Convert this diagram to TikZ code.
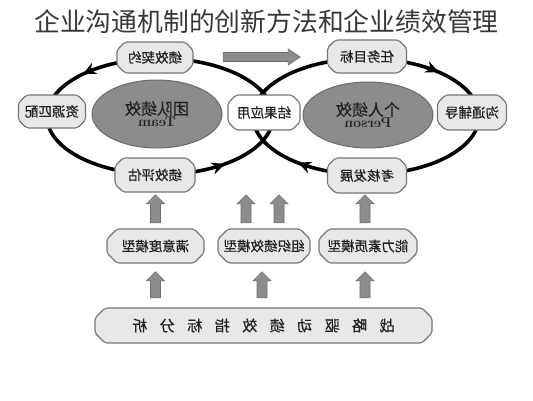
\documentclass[tikz,border=0pt]{standalone}
\usepackage{fontspec}
\usepackage{graphicx}
\newfontfamily\cjk{Noto Sans CJK SC}
\newfontfamily\cjkb[FakeBold=0.6]{Noto Sans CJK SC}
\usetikzlibrary{shapes.geometric,arrows.meta,calc}
\definecolor{boxfill}{HTML}{E8E8E8}
\definecolor{boxline}{HTML}{767676}
\definecolor{ellfill}{HTML}{8C8C8C}
\definecolor{ellline}{HTML}{6A6A6A}
\definecolor{arrfill}{HTML}{8C8C8C}
\definecolor{arrline}{HTML}{6E6E6E}
\definecolor{txt}{HTML}{222222}
\newcommand\mirr[1]{\reflectbox{#1}}
% [fill]{name}{cx}{cy}{w}{h}{chamfer}{text}
\newcommand\octbox[8][boxfill]{%
  \filldraw[octline, fill=#1]
    ({#3-#5/2+#7},{#4-#6/2}) -- ({#3+#5/2-#7},{#4-#6/2}) -- ({#3+#5/2},{#4-#6/2+#7}) --
    ({#3+#5/2},{#4+#6/2-#7}) -- ({#3+#5/2-#7},{#4+#6/2}) -- ({#3-#5/2+#7},{#4+#6/2}) --
    ({#3-#5/2},{#4+#6/2-#7}) -- ({#3-#5/2},{#4-#6/2+#7}) -- cycle;
  \node[octtext, minimum width=#5pt, minimum height=#6pt] (#2) at (#3,#4) {#8};}
\newcommand\blockup[2]{% #1 bottom centre, #2 shaft length
  \draw[blk] (#1) ++(5,0) -- ++(0,-#2) -- ++(4,0) -- ++(-9,-9) -- ++(-9,9) -- ++(4,0) -- ++(0,#2) -- cycle;}
\begin{document}
\begin{tikzpicture}[x=1pt,y=-1pt,
  octline/.style={draw=boxline, line width=1.1pt, rounded corners=2pt},
  octtext/.style={rectangle, inner sep=0pt, text=txt, font=\cjkb\fontsize{13.5}{15}\selectfont},
  ell/.style={ellipse, draw=ellline, fill=ellfill, line width=1pt, inner sep=0pt, text=txt,
     align=center},
  ring/.style={line width=3.6pt, draw=black},
  ringtip/.style={line width=3.6pt, -{Stealth[length=13pt,width=12pt]}},
  blk/.style={fill=arrfill, draw=arrline, line width=0.6pt, line join=miter}
  ]
\useasboundingbox (0,0) rectangle (533,400);
\fill[white] (0,0) rectangle (533,400);

% title
\node[font=\cjk\fontsize{25.8}{28}\selectfont, text=black!78] (title) at (266.5,22) {企业沟通机制的创新方法和企业绩效管理};

% rings
\draw[ring] (160,116.5) ellipse [x radius=113, y radius=58];
\draw[ring] (366,116.5) ellipse [x radius=113, y radius=58];
\draw[ringtip] (87.4,71.9) -- (82.9,74.1);
\draw[ringtip] (220.1,165.7) -- (224.8,164.0);
\draw[ringtip] (434.0,70.1) -- (438.6,72.1);
\draw[ringtip] (302.7,164.6) -- (298.0,162.8);

% ring nodes
\octbox{t1}{155}{57.5}{76}{31}{8}{\mirr{绩效契约}}
\octbox{t2}{52}{111.5}{67}{33}{8}{\mirr{资源匹配}}
\octbox{t3}{155}{175}{80}{34}{8}{\mirr{绩效评估}}
\octbox[white]{t4}{264}{112.5}{72}{35}{8}{\mirr{结果应用}}
\octbox{t5}{367}{56.5}{79}{33}{8}{\mirr{任务目标}}
\octbox{t6}{472}{112.5}{69}{35}{8}{\mirr{沟通辅导}}
\octbox{t7}{367}{175.5}{79}{35}{8}{\mirr{考核发展}}

% ellipses
\node[ell, minimum width=130pt, minimum height=68pt] (e1) at (157,114)
  {{\cjkb\fontsize{16}{18}\selectfont\mirr{团队绩效}}\\[0pt]{\bfseries\fontsize{14}{15}\selectfont\mirr{Team}}};
\node[ell, minimum width=130pt, minimum height=66pt] (e2) at (368,115)
  {{\cjkb\fontsize{16}{18}\selectfont\mirr{个人绩效}}\\[0pt]{\bfseries\fontsize{14}{15}\selectfont\mirr{Person}}};

% top arrow
\coordinate (ta) at ($($(t1.east)!0.5!(t5.west)$)+(-37,4.5)$);
\draw[blk] (ta) -- ++(65,0) -- ++(0,3.5) -- ++(12,-8) -- ++(-12,-8) -- ++(0,3.5) -- ++(-65,0) -- cycle;

% model boxes
\octbox{m1}{155.5}{246}{97}{34}{10}{\mirr{满意度模型}}
\octbox{m2}{264}{246}{92}{34}{10}{\mirr{组织绩效模型}}
\octbox{m3}{368}{246}{98}{34}{10}{\mirr{能力素质模型}}

% bottom bar
\octbox{bar}{263.5}{325.5}{337}{35}{10}{\fontsize{15}{17}\selectfont\mirr{战\hspace{12.5pt}略\hspace{12.5pt}驱\hspace{12.5pt}动\hspace{12.5pt}绩\hspace{12.5pt}效\hspace{12.5pt}指\hspace{12.5pt}标\hspace{12.5pt}分\hspace{12.5pt}析}}

% upper block arrows
\coordinate (u1) at ([yshift=6pt]m1.north);
\coordinate (u2) at ([xshift=-18pt,yshift=6pt]m2.north);
\coordinate (u3) at ([xshift=15pt,yshift=6pt]m2.north);
\coordinate (u4) at ([xshift=-3pt,yshift=6pt]m3.north);
\blockup{u1}{19}
\blockup{u2}{19}
\blockup{u3}{19}
\blockup{u4}{19}

% lower block arrows
\coordinate (l1) at ([yshift=10pt]bar.north -| m1.south);
\coordinate (l2) at ([xshift=-2pt,yshift=10pt]bar.north -| m2.south);
\coordinate (l3) at ([xshift=-3pt,yshift=10pt]bar.north -| m3.south);
\blockup{l1}{17}
\blockup{l2}{17}
\blockup{l3}{17}
\end{tikzpicture}
\end{document}
